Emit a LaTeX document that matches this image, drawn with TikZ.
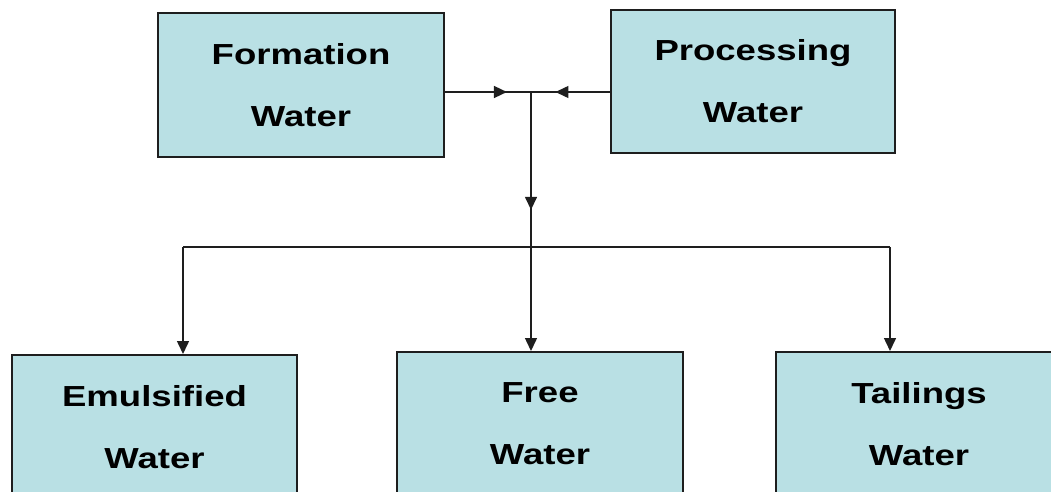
\documentclass[tikz,border=0pt]{standalone}
\usepackage{fontspec}
\newfontfamily\boxfont[FakeStretch=1.26]{Liberation Sans}
\usetikzlibrary{arrows.meta,decorations.markings}
\definecolor{boxfill}{RGB}{185,224,228}
\definecolor{linec}{RGB}{30,30,30}
\begin{document}
\begin{tikzpicture}[x=1pt,y=-1pt,
  wbox/.style={draw=linec,line width=2pt,fill=boxfill,minimum width=286pt,minimum height=144pt,inner sep=0pt,align=center,font=\boxfont\bfseries\fontsize{29}{62}\selectfont},
  conn/.style={draw=linec,line width=1.5pt},
  tip/.style={-{Triangle[length=13pt,width=12pt]}},
  midtip/.style={postaction={decorate},decoration={markings,mark=at position #1 with {\arrow{Triangle[length=13pt,width=12pt]}}}}
]
\useasboundingbox (0,0) rectangle (1051,492);
\clip (0,0) rectangle (1051,492);
\node[wbox] (F) at (301,85) {Formation\\Water};
\node[wbox,minimum width=284pt,minimum height=143pt] (P) at (753,81.5) {Processing\\Water};
\node[wbox,minimum width=285pt] (E) at (154.5,427) {Emulsified\\Water};
\node[wbox] (Fr) at (540,424) {Free\\Water};
\node[wbox] (T) at (919,424) {Tailings\\Water};
\coordinate (J) at (531,92);
\coordinate (K) at (531,247);
\coordinate (L) at (183,247);
\coordinate (R) at (890,247);
\draw[conn,midtip=0.72] (F.east |- J) -- (J);
\draw[conn,midtip=0.69] (P.west |- J) -- (J);
\draw[conn,midtip=0.76] (J) -- (K);
\draw[conn] (L) -- (R);
\draw[conn,tip] (L) -- (L |- E.north);
\draw[conn,tip] (K) -- (K |- Fr.north);
\draw[conn,tip] (R) -- (R |- T.north);
\end{tikzpicture}
\end{document}
